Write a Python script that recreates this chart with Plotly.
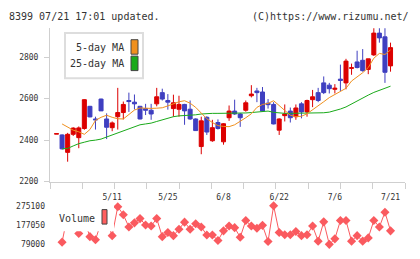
import plotly.graph_objects as go

# ---------------- data ----------------
dates = ["4/21", "4/22", "4/23", "4/24", "4/27", "4/28", "4/30", "5/1", "5/7", "5/8",
         "5/11", "5/12", "5/13", "5/14", "5/15", "5/18", "5/19", "5/20", "5/21", "5/22",
         "5/25", "5/26", "5/27", "5/28", "5/29", "6/1", "6/2", "6/3", "6/4", "6/5",
         "6/8", "6/9", "6/10", "6/11", "6/12", "6/15", "6/16", "6/17", "6/18", "6/19",
         "6/22", "6/23", "6/24", "6/25", "6/26", "6/29", "6/30", "7/1", "7/2", "7/3",
         "7/6", "7/7", "7/8", "7/9", "7/10", "7/13", "7/14", "7/15", "7/16", "7/17", "7/21"]

open_ = [2429, 2425, 2341, 2428, 2412, 2456, 2563, 2502, 2598, 2502,
         2460, 2513, 2533, 2591, 2583, 2563, 2552, 2544, 2575, 2629,
         2591, 2552, 2549, 2572, 2549, 2502, 2369, 2510, 2397, 2485,
         2392, 2508, 2540, 2526, 2544, 2614, 2637, 2632, 2578, 2572,
         2448, 2518, 2540, 2513, 2575, 2536, 2595, 2629, 2676, 2665,
         2645, 2694, 2676, 2746, 2777, 2785, 2741, 2811, 2916, 2898, 2758]
high = [2431, 2428, 2435, 2462, 2466, 2597, 2565, 2513, 2600, 2529,
        2490, 2652, 2586, 2629, 2620, 2565, 2575, 2575, 2652, 2648,
        2622, 2619, 2614, 2575, 2591, 2505, 2513, 2515, 2498, 2500,
        2482, 2567, 2595, 2530, 2591, 2665, 2652, 2656, 2598, 2583,
        2505, 2572, 2557, 2572, 2583, 2595, 2642, 2652, 2707, 2676,
        2670, 2764, 2792, 2769, 2831, 2839, 2792, 2950, 2950, 2950, 2870]
low = [2429, 2355, 2296, 2420, 2361, 2450, 2510, 2451, 2541, 2405,
       2443, 2451, 2500, 2536, 2548, 2500, 2521, 2498, 2563, 2591,
       2547, 2513, 2513, 2474, 2498, 2444, 2332, 2425, 2392, 2451,
       2378, 2493, 2522, 2464, 2537, 2606, 2583, 2537, 2552, 2476,
       2425, 2490, 2485, 2498, 2505, 2513, 2559, 2583, 2622, 2625,
       2625, 2637, 2645, 2715, 2746, 2730, 2718, 2806, 2870, 2676, 2730]
close = [2431, 2358, 2428, 2458, 2459, 2595, 2512, 2498, 2541, 2462,
         2483, 2533, 2572, 2586, 2575, 2502, 2544, 2526, 2609, 2598,
         2583, 2580, 2572, 2541, 2502, 2446, 2493, 2439, 2460, 2456,
         2479, 2540, 2526, 2508, 2580, 2622, 2629, 2540, 2571, 2478,
         2502, 2526, 2508, 2555, 2536, 2591, 2609, 2591, 2629, 2648,
         2650, 2688, 2781, 2749, 2750, 2735, 2792, 2916, 2893, 2727, 2846]

ma5 = [None, 2478, 2463, 2448, 2440, 2428, 2451, 2495, 2510, 2520,
       2510, 2503, 2502, 2525, 2545, 2555, 2553, 2553, 2554, 2556,
       2565, 2575, 2585, 2590, 2578, 2558, 2530, 2503, 2485, 2470,
       2466, 2465, 2474, 2490, 2508, 2527, 2558, 2572, 2577, 2590,
       2568, 2542, 2520, 2513, 2515, 2527, 2545, 2567, 2585, 2605,
       2620, 2633, 2650, 2685, 2705, 2725, 2750, 2795, 2818, 2813, 2835]
ma25 = [None, 2358, 2360, 2372, 2383, 2390, 2397, 2400, 2405, 2415,
        2425, 2435, 2445, 2455, 2465, 2474, 2478, 2482, 2490, 2498,
        2505, 2513, 2517, 2518, 2518, 2522, 2526, 2529, 2529, 2529,
        2529, 2529, 2529, 2530, 2531, 2533, 2536, 2538, 2540, 2534,
        2530, 2529, 2529, 2529, 2529, 2529, 2530, 2530, 2532, 2535,
        2541, 2550, 2560, 2575, 2590, 2604, 2617, 2630, 2640, 2650, 2660]

volume = [None, 90300, 230000, 200000, 134400, 200000, 118200, 102000, 190000, 200000,
          123100, 270200, 229500, 167200, 188300, 209900, 177000, 172100, 209900, 118200,
          139300, 123100, 155800, 191800, 155800, 183400, 167200, 126600, 126600, 98600,
          147600, 172100, 163800, 114800, 200100, 172100, 160800, 175600, 93700, 275100,
          139300, 128000, 128000, 144200, 123100, 128000, 172100, 95200, 193200, 79000,
          106900, 200100, 200100, 95200, 123100, 95200, 111800, 200100, 167200, 242200, 147600]

price_ticks = [2200, 2400, 2600, 2800]
date_ticks = ["5/11", "5/25", "6/8", "6/22", "7/6", "7/21"]
vol_ticks = [79000, 177050, 275100]
vol_tick_text = ["79000", "177050", "275100"]

# ---------------- styling helpers ----------------
W, H = 420, 259
def px(x):
    return x / W
def py(y):
    return 1 - y / H

FONT = "DejaVu Sans Mono"
TXT = "#333333"
AX = "#cfcfcf"
RED = "#dc0000"
BLUE = "#3f3fc0"
ORANGE = "#f0901e"
GREEN = "#1aaa1a"
VOL = "#fa5a5f"

fig = go.Figure()

fig.add_trace(go.Scatter(x=dates, y=ma25, mode="lines", line=dict(color=GREEN, width=1),
                         xaxis="x", yaxis="y", hoverinfo="skip"))
fig.add_trace(go.Scatter(x=dates, y=ma5, mode="lines", line=dict(color=ORANGE, width=1),
                         xaxis="x", yaxis="y", hoverinfo="skip"))
fig.add_trace(go.Candlestick(
    x=dates, open=open_, high=high, low=low, close=close,
    increasing=dict(line=dict(color=RED, width=1), fillcolor=RED),
    decreasing=dict(line=dict(color=BLUE, width=1), fillcolor=BLUE),
    whiskerwidth=0, xaxis="x", yaxis="y"))

fig.add_trace(go.Scatter(x=dates, y=volume, mode="lines+markers",
                         line=dict(color=VOL, width=1),
                         marker=dict(symbol="diamond", size=7, color=VOL),
                         cliponaxis=False, connectgaps=False,
                         xaxis="x2", yaxis="y2", hoverinfo="skip"))

# invisible helper trace for weekly tick axis
fig.add_trace(go.Scatter(x=[None], y=[None], xaxis="x3", yaxis="y", showlegend=False))

xr = [-1.17, 62.6]
fig.update_layout(
    width=W, height=H, margin=dict(l=0, r=0, t=0, b=0),
    paper_bgcolor="white", plot_bgcolor="white", showlegend=False,
    boxgap=0.15, boxgroupgap=0.15,
    xaxis=dict(domain=[px(50), px(405)], type="category", range=xr,
               tickvals=date_ticks, ticktext=date_ticks, ticks="",
               showline=True, linecolor=AX, linewidth=1, showgrid=False, zeroline=False,
               rangeslider=dict(visible=False), anchor="y",
               tickfont=dict(family=FONT, size=8, color=TXT), ticklabelstandoff=8),
    xaxis3=dict(overlaying="x", anchor="y", range=[0, 11], tickvals=list(range(12)),
                ticks="outside", ticklen=6, tickcolor=AX, tickwidth=1,
                showticklabels=False, showline=False, showgrid=False, zeroline=False),
    yaxis=dict(domain=[py(184), py(25)], range=[2200, 2940], tickvals=price_ticks,
               ticks="outside", ticklen=5, tickcolor=AX, tickwidth=1,
               showline=True, linecolor=AX, linewidth=1, showgrid=False, zeroline=False,
               tickfont=dict(family=FONT, size=8, color=TXT), ticklabelstandoff=4,
               anchor="x"),
    xaxis2=dict(domain=[px(50), px(405)], type="category", range=xr, visible=False,
                anchor="y2", matches="x"),
    yaxis2=dict(domain=[py(249), py(209)], range=[79000, 275100], tickvals=vol_ticks,
                ticktext=vol_tick_text,
                ticks="", showline=False, showgrid=False, zeroline=False,
                tickfont=dict(family=FONT, size=8, color=TXT), ticklabelstandoff=4,
                anchor="x2"),
)

shapes = [
    dict(type="rect", xref="paper", yref="paper", x0=px(65), x1=px(143), y0=py(77), y1=py(30),
         line=dict(color="#dddddd", width=2), fillcolor="white"),
    dict(type="rect", xref="paper", yref="paper", x0=px(131), x1=px(138), y0=py(52), y1=py(37),
         line=dict(color="#444444", width=1), fillcolor=ORANGE),
    dict(type="rect", xref="paper", yref="paper", x0=px(131), x1=px(138), y0=py(69), y1=py(54),
         line=dict(color="#444444", width=1), fillcolor=GREEN),
    dict(type="rect", xref="paper", yref="paper", x0=px(57), x1=px(114), y0=py(235.5), y1=py(204),
         line=dict(width=0), fillcolor="white"),
    dict(type="rect", xref="paper", yref="paper", x0=px(102), x1=px(107), y0=py(228), y1=py(213),
         line=dict(color="#444444", width=1), fillcolor="#ff5f5f"),
]
fig.update_layout(shapes=shapes)

ann_font = dict(family=FONT, size=10, color=TXT)
annotations = [
    dict(text="8399 07/21 17:01 updated.", x=px(8), y=py(12.5), xanchor="left", yanchor="middle"),
    dict(text="(C)https://www.rizumu.net/", x=px(410), y=py(12.5), xanchor="right", yanchor="middle"),
    dict(text="5-day MA", x=px(125), y=py(45), xanchor="right", yanchor="middle"),
    dict(text="25-day MA", x=px(125), y=py(62), xanchor="right", yanchor="middle"),
    dict(text="Volume", x=px(58), y=py(222), xanchor="left", yanchor="middle"),
]
for a in annotations:
    a.update(xref="paper", yref="paper", showarrow=False, font=ann_font, borderpad=0)
fig.update_layout(annotations=annotations)

fig.write_html("out.html")
